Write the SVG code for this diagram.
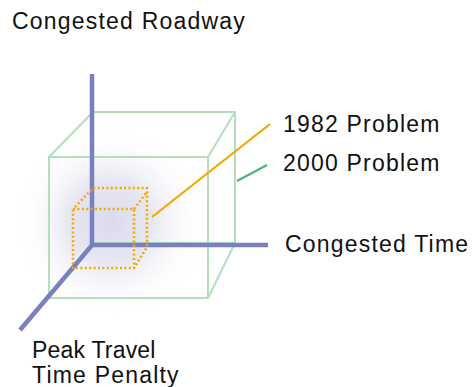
<svg xmlns="http://www.w3.org/2000/svg" width="474" height="387" viewBox="0 0 474 387">
<style>
.t{font-family:"Liberation Sans",Arial,sans-serif;font-size:23px;fill:#111;letter-spacing:1.2px}
.axis{stroke:#7a7fc0;stroke-width:4.5;fill:none}
.g{stroke:#b3dfbd;stroke-width:2;fill:none}
.o{stroke:#f2a900;stroke-width:2.6;fill:none;stroke-dasharray:2 2.4;stroke-linejoin:round}
</style>
<defs>
<radialGradient id="glow" cx="110" cy="222" r="95" gradientUnits="userSpaceOnUse">
<stop offset="0" stop-color="#dadaec"/>
<stop offset="0.45" stop-color="#e8e8f3"/>
<stop offset="1" stop-color="#ffffff" stop-opacity="0"/>
</radialGradient>
</defs>
<rect width="474" height="387" fill="#fff"/>
<ellipse cx="115" cy="218" rx="100" ry="95" fill="url(#glow)"/>
<g id="cube2000">
<rect class="g" x="49" y="157" width="159" height="141"/>
<rect class="g" x="93" y="112" width="142" height="131"/>
<path class="g" d="M49 157L93 112M208 157L235 112M208 298L235 243M49 298L93 243"/>
</g>
<g id="axes">
<line class="axis" x1="92" y1="74" x2="92" y2="245"/>
<line class="axis" x1="90" y1="245" x2="268" y2="245"/>
<line class="axis" x1="93" y1="244" x2="20" y2="330"/>
</g>
<g id="cube1982">
<path class="o" d="M73 209H134V268H73Z"/>
<path class="o" d="M75 207L93 188H147V247L134 268M134 209L147 192"/>
</g>
<g id="connectors">
<line x1="152" y1="217" x2="270" y2="124" stroke="#f0a800" stroke-width="2.2"/>
<line x1="237" y1="181" x2="267" y2="165" stroke="#4cb37a" stroke-width="2.2"/>
</g>
<g id="label-roadway"><text class="t" x="12" y="29">Congested Roadway</text></g>
<g id="label-1982"><text class="t" x="283" y="132">1982 Problem</text></g>
<g id="label-2000"><text class="t" x="283" y="171">2000 Problem</text></g>
<g id="label-time"><text class="t" x="285" y="252">Congested Time</text></g>
<g id="label-penalty"><text class="t" x="32" y="358" style="letter-spacing:0.2px">Peak Travel</text><text class="t" x="32" y="383">Time Penalty</text></g>
</svg>
